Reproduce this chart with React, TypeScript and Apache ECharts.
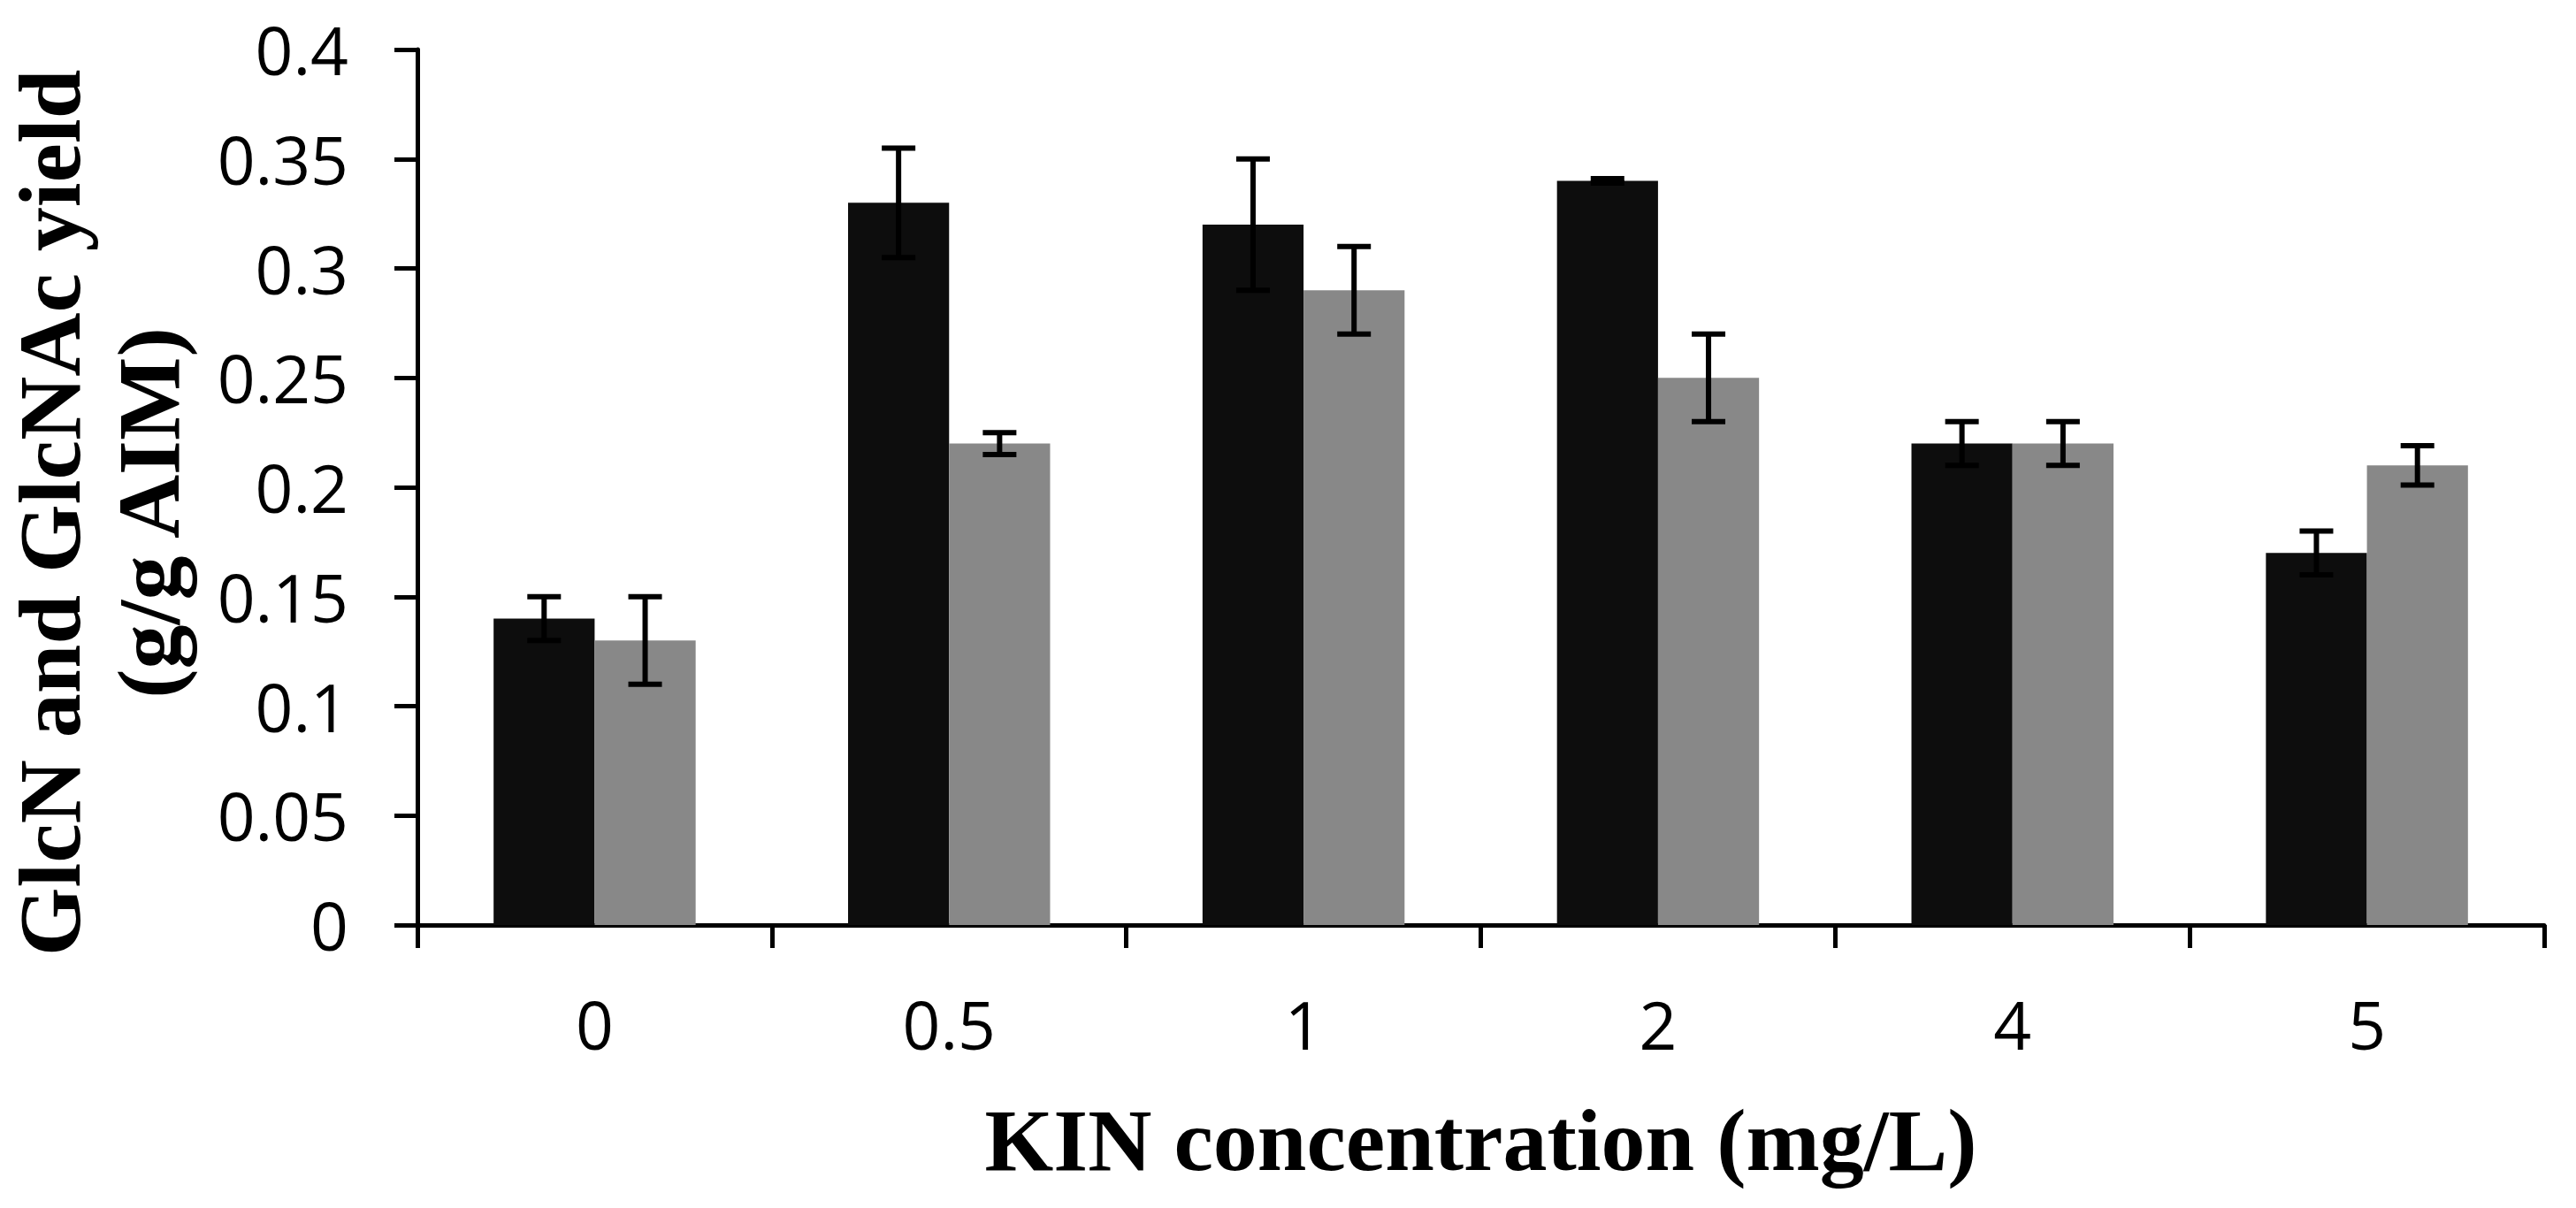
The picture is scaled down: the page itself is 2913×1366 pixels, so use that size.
import { useEffect, useRef } from "react";
import * as echarts from "echarts";

const categories = ["0", "0.5", "1", "2", "4", "5"];
const darkValues = [0.14, 0.33, 0.32, 0.34, 0.22, 0.17];
const darkErrors = [0.01, 0.025, 0.03, 0.001, 0.01, 0.01];
const greyValues = [0.13, 0.22, 0.29, 0.25, 0.22, 0.21];
const greyErrors = [0.02, 0.005, 0.02, 0.02, 0.01, 0.009];
const yMin = 0;
const yMax = 0.4;
const yStep = 0.05;

const CAT_GAP = 0.43;
const labelFont = "'Open Sans', 'DejaVu Sans', sans-serif";
const titleFont = "'Liberation Serif', 'Times New Roman', serif";

// side: -1 = left bar of the pair, 1 = right bar
const errorBars = (name: string, values: number[], errors: number[], side: number) => ({
    name,
    type: "custom",
    z: 10,
    silent: true,
    encode: { x: 0, y: [1, 2] },
    data: values.map((v, i) => [i, v - errors[i], v + errors[i]]),
    renderItem: (_params: any, api: any) => {
        const idx = api.value(0);
        const catW = api.size([1, 0])[0];
        const barW = (catW * (1 - CAT_GAP)) / 2;
        const cx = api.coord([idx, 0])[0] + (side * barW) / 2;
        const yLo = api.coord([idx, api.value(1)])[1];
        const yHi = api.coord([idx, api.value(2)])[1];
        const half = 19;
        const style = { stroke: "#000", lineWidth: 6 };
        return {
            type: "group",
            children: [
                { type: "line", shape: { x1: cx, y1: yHi, x2: cx, y2: yLo }, style },
                { type: "line", shape: { x1: cx - half, y1: yHi, x2: cx + half, y2: yHi }, style },
                { type: "line", shape: { x1: cx - half, y1: yLo, x2: cx + half, y2: yLo }, style },
            ],
        };
    },
});

export default function App() {
    const chartRef = useRef<HTMLDivElement>(null);

    useEffect(() => {
        if (!chartRef.current) return;
        const chart = echarts.init(chartRef.current, undefined, { renderer: "svg" });

        const axisLine = { show: true, lineStyle: { color: "#000", width: 5 } };

        chart.setOption({
            animation: false,
            backgroundColor: "#fff",
            grid: {
                left: 472,
                right: 36,
                top: 56,
                bottom: 320,
                containLabel: false,
                outerBoundsMode: "none",
            },
            xAxis: {
                type: "category",
                data: categories,
                boundaryGap: true,
                axisLine,
                axisTick: { show: true, length: 26, lineStyle: { color: "#000", width: 5 } },
                axisLabel: {
                    color: "#000",
                    fontFamily: labelFont,
                    fontSize: 75,
                    lineHeight: 75,
                    margin: 74,
                },
                splitLine: { show: false },
                name: "KIN concentration (mg/L)",
                nameLocation: "middle",
                nameGap: 193,
                nameTextStyle: {
                    color: "#000",
                    fontFamily: titleFont,
                    fontWeight: "bold",
                    fontSize: 100,
                    lineHeight: 100,
                },
            },
            yAxis: {
                type: "value",
                min: yMin,
                max: yMax,
                interval: yStep,
                axisLine,
                axisTick: { show: true, length: 26, lineStyle: { color: "#000", width: 5 } },
                axisLabel: {
                    color: "#000",
                    fontFamily: labelFont,
                    fontSize: 75,
                    lineHeight: 75,
                    margin: 78,
                },
                splitLine: { show: false },
            },
            graphic: [
                {
                    type: "text",
                    x: 112,
                    y: 580,
                    rotation: Math.PI / 2,
                    style: {
                        text: "GlcN and GlcNAc yield\n(g/g AIM)",
                        fill: "#000",
                        fontFamily: titleFont,
                        fontWeight: "bold",
                        fontSize: 100,
                        lineHeight: 112,
                        align: "center",
                        verticalAlign: "middle",
                    },
                },
            ],
            series: [
                {
                    name: "Series 1",
                    type: "bar",
                    data: darkValues,
                    barGap: "0%",
                    barCategoryGap: "43%",
                    itemStyle: { color: "#0d0d0d" },
                },
                {
                    name: "Series 2",
                    type: "bar",
                    data: greyValues,
                    barGap: "0%",
                    barCategoryGap: "43%",
                    itemStyle: { color: "#888888" },
                },
                errorBars("Series 1 error", darkValues, darkErrors, -1),
                errorBars("Series 2 error", greyValues, greyErrors, 1),
            ],
        });

        const handleResize = () => chart.resize();
        window.addEventListener("resize", handleResize);
        return () => {
            window.removeEventListener("resize", handleResize);
            chart.dispose();
        };
    }, []);

    return (
        <div
            ref={chartRef}
            style={{ position: "fixed", left: 0, top: 0, width: "2913px", height: "1366px", background: "#fff" }}
        />
    );
}
